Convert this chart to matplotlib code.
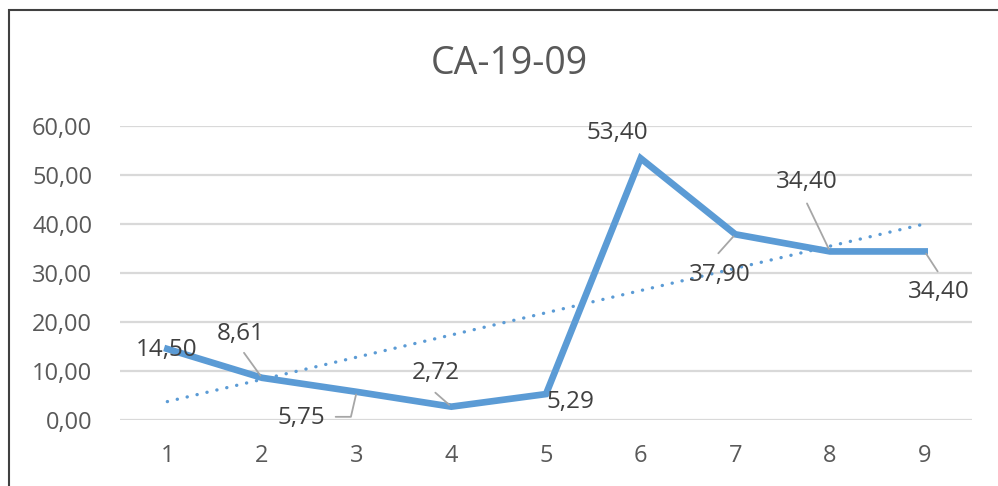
import numpy as np
import matplotlib
matplotlib.use("Agg")
import matplotlib.pyplot as plt
from matplotlib.patches import Rectangle

plt.rcParams['font.family'] = ['Open Sans', 'DejaVu Sans']

# Hodnoty CA-19-09
x = [1, 2, 3, 4, 5, 6, 7, 8, 9]
values = [14.50, 8.61, 5.75, 2.72, 5.29, 53.40, 37.90, 34.40, 34.40]
y_ticks = [0, 10, 20, 30, 40, 50, 60]

# posuny popisků (px) a začátky vodicích čar
label_offsets = [(-1, -1), (-21, 44), (-55, -26), (-16, 34), (24, -8),
                 (-23, 25), (-16, -41), (-23, 69), (14, -41)]
leaders = {1: (-18, 25), 3: (-16, 14), 6: (-17, -19), 7: (-23, 48), 8: (13, -20)}

blue = "#5B9BD5"
grid_c = "#D9D9D9"
txt = "#595959"
lbl = "#404040"

fig = plt.figure(figsize=(9.98, 4.86), dpi=100)
ax = fig.add_axes([120 / 998, 66 / 486, 852 / 998, 294 / 486])

# lineární trend
k, q = np.polyfit(x, values, 1)
trend = [k * xi + q for xi in x]
ax.plot([x[0], x[-1]], [trend[0], trend[-1]], color=blue, lw=2.4,
        linestyle=(0, (0.05, 3.0)), dash_capstyle='round', zorder=3)

ax.plot(x, values, color=blue, lw=4.8, solid_joinstyle='miter', zorder=4)

ax.set_xlim(0.5, 9.5)
ax.set_ylim(0, 60)
ax.set_yticks(y_ticks)
ax.set_yticklabels([f"{v:.2f}".replace(".", ",") for v in y_ticks])
ax.set_xticks(x)
ax.set_xticklabels([str(i) for i in x])
ax.yaxis.grid(True, color=grid_c, lw=1.6)
ax.set_axisbelow(True)
for s in ax.spines.values():
    s.set_visible(False)
ax.tick_params(axis='both', length=0, colors=txt, labelsize=17)
ax.tick_params(axis='y', pad=20)
ax.tick_params(axis='x', pad=17)

# popisky hodnot
for i, (xi, v) in enumerate(zip(x, values)):
    dx, dy = label_offsets[i]
    ax.annotate(f"{v:.2f}".replace(".", ","), (xi, v), xytext=(dx, dy),
                textcoords='offset pixels', ha='center', va='center',
                fontsize=17.5, color=lbl, zorder=6)
    if i in leaders:
        ax.annotate("", (xi, v), xytext=leaders[i], textcoords='offset pixels',
                    arrowprops=dict(arrowstyle='-', color="#A6A6A6", lw=1.3,
                                    shrinkA=0, shrinkB=2), zorder=5)
# lomená vodicí čára u bodu 3
ax.annotate("", (x[2], values[2]), xytext=(-21, -25), textcoords='offset pixels',
            arrowprops=dict(arrowstyle='-', color="#A6A6A6", lw=1.3, shrinkA=0,
                            shrinkB=2,
                            connectionstyle="angle,angleA=0,angleB=77,rad=0"),
            zorder=5)

fig.text(509 / 998, 1 - 64 / 486, "CA-19-09", ha='center', va='center',
         fontsize=27, color=txt)

# rámeček grafu
fig.patches.append(Rectangle((9 / 998, -0.1), 1.2, 1 - 10 / 486 + 0.1,
                             transform=fig.transFigure, fill=False,
                             edgecolor="#404040", lw=1.5))

fig.savefig("out.png", dpi=100, facecolor="white")
